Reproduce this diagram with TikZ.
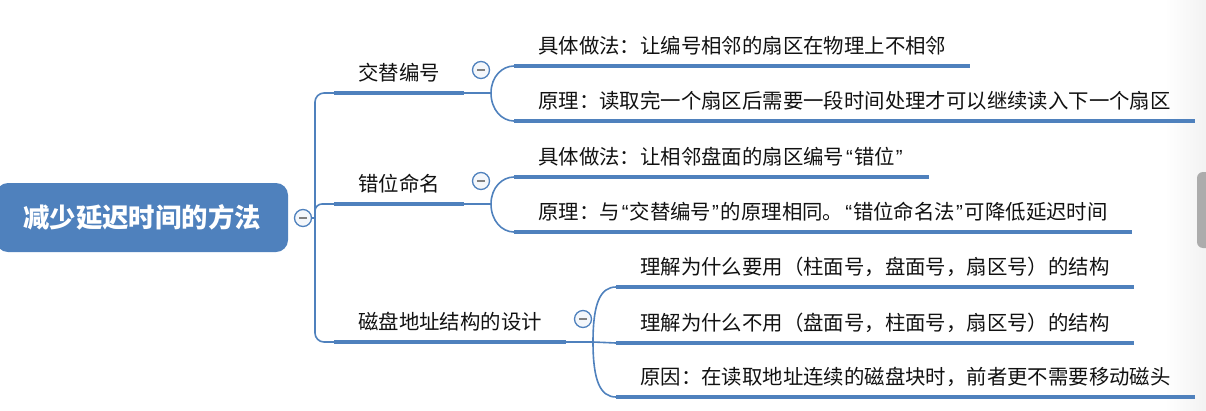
\documentclass[tikz,border=0pt]{standalone}
\usepackage{fontspec}
\setmainfont{Noto Sans CJK SC}
\newfontfamily\latinfont{Liberation Sans}
\newcommand{\qt}[1]{\kern2pt{\latinfont “}\kern1pt#1\kern1pt{\latinfont ”}\kern2pt}
\usetikzlibrary{positioning,calc}
\definecolor{mapblue}{HTML}{4F81BD}
\definecolor{inkgray}{HTML}{111111}
\tikzset{link/.style={draw=mapblue, line width=1.6pt}}
\tikzset{uline/.style={draw=mapblue, line width=4.5pt}}
\tikzset{topic/.style={anchor=south west, inner xsep=24pt, inner ysep=12pt, text height=14pt, text depth=0pt, font=\fontsize{20.4}{24}\selectfont, text=inkgray}}
\tikzset{rootbox/.style={rounded corners=12pt, fill=mapblue, text=white, minimum width=292pt, minimum height=69pt, font=\bfseries\fontsize{26.4}{30}\selectfont}}
\tikzset{fold/.style={circle, draw=mapblue, line width=1.3pt, fill=mapblue!6, minimum size=17pt, inner sep=0pt,
    path picture={\draw[gray, line width=1.6pt] ($(path picture bounding box.center)+(-4,0)$) -- ($(path picture bounding box.center)+(4,0)$);}}}
\begin{document}
\begin{tikzpicture}[x=1pt, y=-1pt]
  \useasboundingbox (0,0) rectangle (1206,410);
  \shade[left color=white, right color=gray!10] (1165,0) rectangle (1206,410);
  \fill[gray!65, rounded corners=6pt] (1197,172) rectangle (1215,248);
  % root
  \node[rootbox] (root) at (142,217.5) {减少延迟时间的方法};
  \node[fold] (fold-root) at (303,218) {};
  \coordinate (trunk) at (315,218);
  % branches
  \node[topic] (swap) at (334,93) {交替编号};
  \node[topic] (misalign) at (334,204) {错位命名};
  \node[topic] (disk) at (334,342) {磁盘地址结构的设计};
  \foreach \b in {swap, misalign, disk} {
    \node[fold] (fold-\b) at ($(\b.south east)+(17,-23)$) {};
    \coordinate (\b-j) at ($(\b.south east)+(27,0)$);
  }
  % leaves
  \node[topic] (swap-how) at ($(swap-j)+(23,-27)$) {具体做法：让编号相邻的扇区在物理上不相邻};
  \node[topic] (swap-why) at ($(swap-j)+(23,28)$) {原理：读取完一个扇区后需要一段时间处理才可以继续读入下一个扇区};
  \node[topic] (misalign-how) at ($(misalign-j)+(23,-27)$) {具体做法：让相邻盘面的扇区编号\qt{错位}};
  \node[topic] (misalign-why) at ($(misalign-j)+(23,28)$) {原理：与\qt{交替编号}的原理相同。\qt{错位命名法}可降低延迟时间};
  \node[topic] (disk-use) at ($(disk-j)+(23,-55)$) {理解为什么要用（柱面号，盘面号，扇区号）的结构};
  \node[topic] (disk-not) at ($(disk-j)+(23,1)$) {理解为什么不用（盘面号，柱面号，扇区号）的结构};
  \node[topic] (disk-cause) at ($(disk-j)+(23,55)$) {原因：在读取地址连续的磁盘块时，前者更不需要移动磁头};
  \foreach \n in {swap, misalign, disk, swap-how, swap-why, misalign-how, misalign-why, disk-use, disk-not, disk-cause}
    \draw[uline] (\n.south west) -- (\n.south east);
  % connectors
  \draw[link] (fold-root) -- (trunk);
  \draw[link, rounded corners=9pt] (swap.south west) -| (trunk) |- (disk.south west);
  \draw[link, rounded corners=7pt] (trunk) |- (misalign.south west);
  \foreach \b in {swap, misalign, disk}
    \draw[link] (\b.south east) -- (\b-j);
  \foreach \b/\l in {swap/how, swap/why, misalign/how, misalign/why}
    \draw[link] (\b-j) .. controls ($(\b-j)!0.6!(\b-j |- \b-\l.south west)$) and ($(\b-\l.south west)+(-12,0)$) .. (\b-\l.south west);
  \draw[link] (disk-j) .. controls +(0,-38) and +(-16,0) .. (disk-use.south west);
  \draw[link] (disk-j) -- (disk-not.south west);
  \draw[link] (disk-j) .. controls +(0,38) and +(-16,0) .. (disk-cause.south west);
\end{tikzpicture}
\end{document}
